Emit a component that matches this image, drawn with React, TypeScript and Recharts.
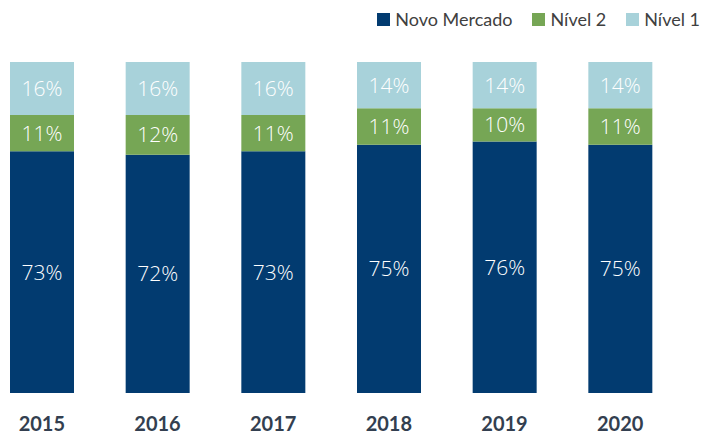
import { Bar, BarChart, LabelList, Legend, XAxis, YAxis } from "recharts";

const years = ["2015", "2016", "2017", "2018", "2019", "2020"];
const novoMercado = [73, 72, 73, 75, 76, 75];
const nivel2 = [11, 12, 11, 11, 10, 11];
const nivel1 = [16, 16, 16, 14, 14, 14];

const series = [
  { key: "novo", name: "Novo Mercado", color: "#023B70" },
  { key: "n2", name: "Nível 2", color: "#76A655" },
  { key: "n1", name: "Nível 1", color: "#A8D2DA" },
];

const data = years.map((year, i) => ({
  year,
  novo: novoMercado[i],
  n2: nivel2[i],
  n1: nivel1[i],
}));

const font = "Lato, 'Open Sans', sans-serif";
const pct = (v: any) => `${v}%`;

function LegendRow() {
  return (
    <div style={{ display: "flex", gap: 20, fontSize: 18, color: "#404040", fontFamily: font }}>
      {series.map((s) => (
        <span key={s.key} style={{ display: "inline-flex", alignItems: "center", gap: 5 }}>
          <span style={{ width: 13, height: 13, background: s.color, display: "inline-block" }} />
          {s.name}
        </span>
      ))}
    </div>
  );
}

export default function App() {
  return (
    <div style={{ position: "absolute", left: -16, top: 0, width: 718, height: 434, fontFamily: font }}>
      <BarChart
        width={718}
        height={434}
        data={data}
        margin={{ top: 40, right: 24, bottom: 0, left: 0 }}
        barSize={64}
      >
        <YAxis hide domain={[0, 100]} />
        <XAxis
          dataKey="year"
          axisLine={false}
          tickLine={false}
          height={41}
          tickMargin={18}
          tick={{ fill: "#333F50", fontSize: 20, fontWeight: 700, fontFamily: font }}
        />
        <Legend
          verticalAlign="top"
          align="right"
          content={() => <LegendRow />}
          wrapperStyle={{ top: 8, right: 2, width: "auto" }}
        />
        {series.map((s) => (
          <Bar key={s.key} dataKey={s.key} name={s.name} stackId="a" fill={s.color} isAnimationActive={false}>
            <LabelList dataKey={s.key} position="center" formatter={pct} fill="#fff" fontSize={21} fontFamily="'Open Sans', sans-serif" fontWeight={300} />
          </Bar>
        ))}
      </BarChart>
    </div>
  );
}
